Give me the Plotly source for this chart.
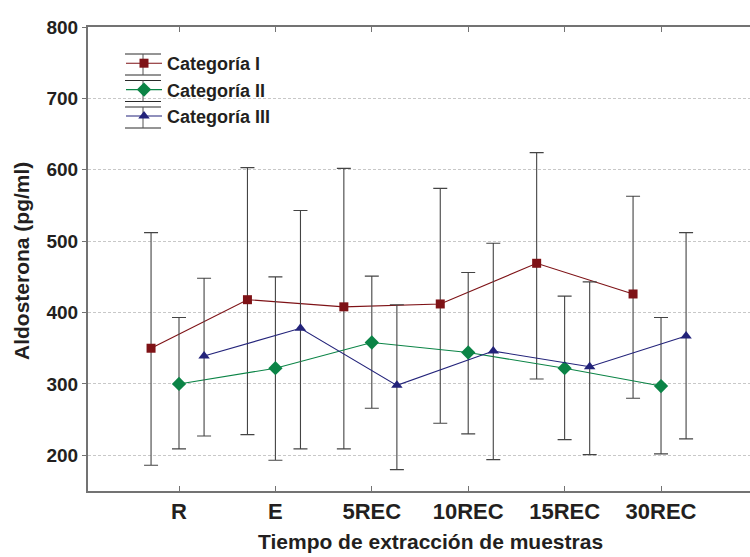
import plotly.graph_objects as go

categories = ["R", "E", "5REC", "10REC", "15REC", "30REC"]

cat1_mean = [350, 418, 408, 412, 469, 426]
cat1_upper = [512, 603, 602, 574, 624, 563]
cat1_lower = [186, 229, 209, 245, 307, 280]

cat2_mean = [300, 322, 358, 344, 322, 297]
cat2_upper = [393, 450, 451, 456, 423, 393]
cat2_lower = [209, 193, 266, 230, 222, 202]

cat3_mean = [339, 378, 298, 346, 324, 367]
cat3_upper = [448, 543, 411, 497, 443, 512]
cat3_lower = [227, 209, 180, 194, 201, 223]

series_names = ["Categoría I", "Categoría II", "Categoría III"]
y_ticks = [200, 300, 400, 500, 600, 700, 800]

# styling (not data)
styles = [
    dict(color="#7e1216", symbol="square", size=9, offset=-0.29),
    dict(color="#0b8446", symbol="diamond", size=11, offset=0.0),
    dict(color="#23237a", symbol="triangle-up", size=10, offset=0.26),
]
series_data = [
    (cat1_mean, cat1_upper, cat1_lower),
    (cat2_mean, cat2_upper, cat2_lower),
    (cat3_mean, cat3_upper, cat3_lower),
]

FONT = "Liberation Sans, Arial, sans-serif"
TXT = "#231f20"

W, H = 750, 557
ML, MR, MT, MB = 88, 0, 27, 66
PW, PH = W - ML - MR, H - MT - MB


def px_x(x):
    return (x - ML) / PW


def px_y(y):
    return (H - MB - y) / PH


fig = go.Figure()
for name, (mean, up, lo), st in zip(series_names, series_data, styles):
    xs = [i + st["offset"] for i in range(len(categories))]
    fig.add_trace(go.Scatter(
        x=xs, y=mean, name=name, mode="lines+markers",
        line=dict(color=st["color"], width=1.1),
        marker=dict(symbol=st["symbol"], size=st["size"], color=st["color"]),
        error_y=dict(type="data", symmetric=False,
                     array=[u - m for u, m in zip(up, mean)],
                     arrayminus=[m - l for m, l in zip(mean, lo)],
                     color="#444444", thickness=1.1, width=7),
    ))

# legend whisker ornaments (mimic error-bar glyphs in the legend)
LEG_TOP = 45
LEG_STEP = 26.5
shapes = []
for k in range(len(series_names)):
    c = LEG_TOP + 19 + k * LEG_STEP
    for dy in (-10, 11):
        shapes.append(dict(type="line", xref="paper", yref="paper",
                           x0=px_x(125), x1=px_x(161), y0=px_y(c + dy), y1=px_y(c + dy),
                           line=dict(color="#2a2a2a", width=1)))
    shapes.append(dict(type="line", xref="paper", yref="paper",
                       x0=px_x(143), x1=px_x(143), y0=px_y(c - 10), y1=px_y(c + 11),
                       line=dict(color="#555555", width=1)))

annotations = [
    dict(text="<b>Tiempo de extracción de muestras</b>", xref="paper", yref="paper",
         x=px_x(430), y=px_y(541), xanchor="center", yanchor="middle", showarrow=False,
         font=dict(size=21, family=FONT, color=TXT)),
    dict(text="<b>Aldosterona (pg/ml)</b>", xref="paper", yref="paper",
         x=px_x(21), y=px_y(261), xanchor="center", yanchor="middle", showarrow=False,
         textangle=-90, font=dict(size=21, family=FONT, color=TXT)),
]

fig.update_layout(
    width=W, height=H,
    margin=dict(l=ML, r=MR, t=MT, b=MB, autoexpand=False),
    paper_bgcolor="white", plot_bgcolor="white",
    font=dict(family=FONT, color=TXT),
    showlegend=True,
    legend=dict(x=px_x(121), y=px_y(LEG_TOP), xanchor="left", yanchor="top",
                font=dict(size=18, family=FONT, color=TXT, weight="bold"),
                bgcolor="rgba(0,0,0,0)", tracegroupgap=0, itemwidth=36),
    shapes=shapes,
    annotations=annotations,
)
fig.update_xaxes(
    range=[-0.944, 5.923], tickmode="array", tickvals=list(range(len(categories))),
    ticktext=categories, showgrid=False, zeroline=False, automargin=False,
    showline=True, linecolor="#737373", linewidth=2, mirror="ticks",
    ticks="inside", ticklen=5, tickcolor="#737373", tickwidth=1,
    tickfont=dict(size=22, family=FONT, color=TXT, weight="bold"),
)
fig.update_yaxes(
    range=[150, 800], tickvals=y_ticks, automargin=False,
    showgrid=True, gridcolor="#c8c8c8", griddash="3px,2px", gridwidth=1,
    zeroline=False, showline=True, linecolor="#737373", linewidth=2,
    ticks="outside", ticklen=4, tickcolor="#737373",
    tickfont=dict(size=19, family=FONT, color=TXT, weight="bold"),
)

fig.write_html("out.html", config={"displayModeBar": False},
               post_script="document.body.style.margin='0';document.body.style.padding='0';")
